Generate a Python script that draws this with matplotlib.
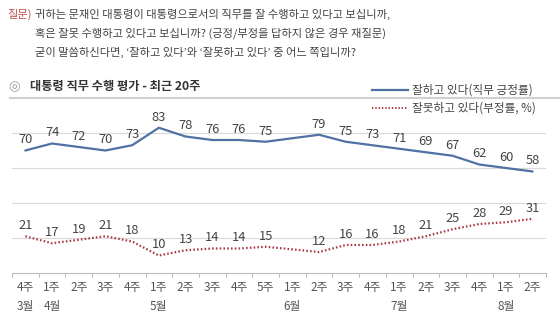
import numpy as np
import matplotlib
matplotlib.use("Agg")
import matplotlib.pyplot as plt
from matplotlib.lines import Line2D

plt.rcParams['font.family'] = ['Noto Sans CJK KR', 'DejaVu Sans']

weeks = ["4주", "1주", "2주", "3주", "4주", "1주", "2주", "3주", "4주", "5주",
         "1주", "2주", "3주", "4주", "1주", "2주", "3주", "4주", "1주", "2주"]
months = ["3월", "4월", "", "", "", "5월", "", "", "", "",
          "6월", "", "", "", "7월", "", "", "", "8월", ""]
# 6월 1주 has no survey
positive = [70, 74, 72, 70, 73, 83, 78, 76, 76, 75,
            np.nan, 79, 75, 73, 71, 69, 67, 62, 60, 58]
negative = [21, 17, 19, 21, 18, 10, 13, 14, 14, 15,
            np.nan, 12, 16, 16, 18, 21, 25, 28, 29, 31]

W, H = 560, 329
fig = plt.figure(figsize=(W / 100, H / 100), dpi=100)
ax = fig.add_axes([12 / W, 56 / H, 534 / W, 175 / H])

x = np.arange(len(weeks))
pos = np.array(positive)
neg = np.array(negative)
ok = ~np.isnan(pos)

blue = "#4f72a3"
red = "#a8343f"
txt = "#444444"

ax.plot(x[ok], pos[ok], color=blue, lw=1.6, solid_capstyle="round")
ax.plot(x[ok], neg[ok], color=red, lw=1.6, linestyle=(0, (0.7, 1.0)))

for xi, v in zip(x[ok], pos[ok]):
    ax.annotate(f"{int(v)}", (xi, v), xytext=(0, 3), textcoords="offset points",
                ha="center", va="bottom", fontsize=9.3, color=txt)
for xi, v in zip(x[ok], neg[ok]):
    ax.annotate(f"{int(v)}", (xi, v), xytext=(0, 3), textcoords="offset points",
                ha="center", va="bottom", fontsize=9.3, color=txt)

ax.set_xlim(-0.5, len(weeks) - 0.5)
ax.set_ylim(0, 100)
for g in [20, 40, 60, 80]:
    ax.axhline(g, color="#d9d9d9", lw=0.8, zorder=0)

ax.set_xticks(np.arange(len(weeks) + 1) - 0.5)
ax.set_xticklabels([])
ax.set_xticks(x, minor=True)
ax.set_xticklabels([f"{w}\n{m}" for w, m in zip(weeks, months)], minor=True,
                   fontsize=8.5, color="#555555", linespacing=1.6)
ax.tick_params(axis="x", which="major", length=3, color="#bbbbbb", direction="out")
ax.tick_params(axis="x", which="minor", length=0, pad=6)
ax.set_yticks([])
for s in ["top", "right", "left"]:
    ax.spines[s].set_visible(False)
ax.spines["bottom"].set_color("#bbbbbb")
ax.spines["bottom"].set_linewidth(0.8)

# question header
fig.text(7 / W, 1 - 14 / H, "질문)", color="#c0504d", fontsize=8.1, va="center")
fig.text(35 / W, 1 - 14 / H, "귀하는 문재인 대통령이 대통령으로서의 직무를 잘 수행하고 있다고 보십니까,",
         color=txt, fontsize=8.1, va="center")
fig.text(35 / W, 1 - 33 / H, "혹은 잘못 수행하고 있다고 보십니까? (긍정/부정을 답하지 않은 경우 재질문)",
         color=txt, fontsize=8.1, va="center")
fig.text(35 / W, 1 - 52 / H, "굳이 말씀하신다면, ‘잘하고 있다’와 ‘잘못하고 있다’ 중 어느 쪽입니까?",
         color=txt, fontsize=8.1, va="center")

fig.text(8 / W, 1 - 87 / H, "◎", color="#999999", fontsize=9.5, va="center",
         family=['DejaVu Sans'])
fig.text(30 / W, 1 - 87 / H, "대통령 직무 수행 평가 - 최근 20주", color="#333333",
         fontsize=8.8, fontweight="bold", va="center")
fig.add_artist(Line2D([10 / W, 1], [1 - 98 / H, 1 - 98 / H], color="#d0d0d0", lw=1.5))

# legend
fig.add_artist(Line2D([372 / W, 408 / W], [1 - 90 / H, 1 - 90 / H], color=blue, lw=1.6))
fig.text(412 / W, 1 - 90 / H, "잘하고 있다(직무 긍정률)", color=txt, fontsize=8.4, va="center")
fig.add_artist(Line2D([372 / W, 408 / W], [1 - 108 / H, 1 - 108 / H], color=red, lw=1.4,
                      linestyle=(0, (0.7, 1.0))))
fig.text(412 / W, 1 - 108 / H, "잘못하고 있다(부정률, %)", color=txt, fontsize=8.4, va="center")

fig.savefig("out.png", dpi=100, facecolor="white")
